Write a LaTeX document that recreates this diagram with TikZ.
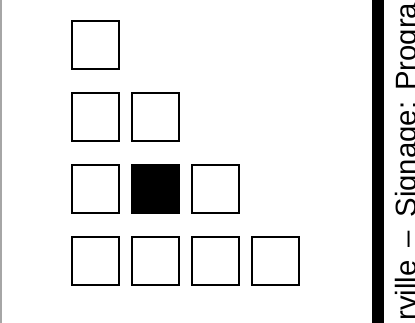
\documentclass[tikz,border=0pt]{standalone}
\usepackage{fontspec}
\newfontfamily\captionfont{Liberation Sans}
\tikzset{
    cell/.style={draw,line width=1.5pt,minimum size=35.6pt,inner sep=0pt},
    cellon/.style={cell,fill=black},
}
\begin{document}
\begin{tikzpicture}[x=0.75pt,y=-0.75pt]
        \useasboundingbox (0,0) rectangle (415,323);
        \clip (0,0) rectangle (415,323);
        \draw[gray!70,line width=1.2pt] (0.8,0) -- (0.8,323);
        \foreach \r in {0,...,3}{%
        \foreach \c in {0,...,\r}{%
            \node[cell] (sq-\r-\c) at (95.5+60*\c,44.9+72*\r) {};
        }
        }
        \node[cellon] (sq-2-1) at (155.5,188.9) {};
        \fill (372.3,0) rectangle (384,323);
        \node[rotate=90,anchor=base west,inner sep=0pt,font=\captionfont\fontsize{22pt}{26pt}\selectfont] (caption) at (416,321) {rville\hspace{10pt}–\hspace{10pt}Signage: Progra};
    \end{tikzpicture}
\end{document}
